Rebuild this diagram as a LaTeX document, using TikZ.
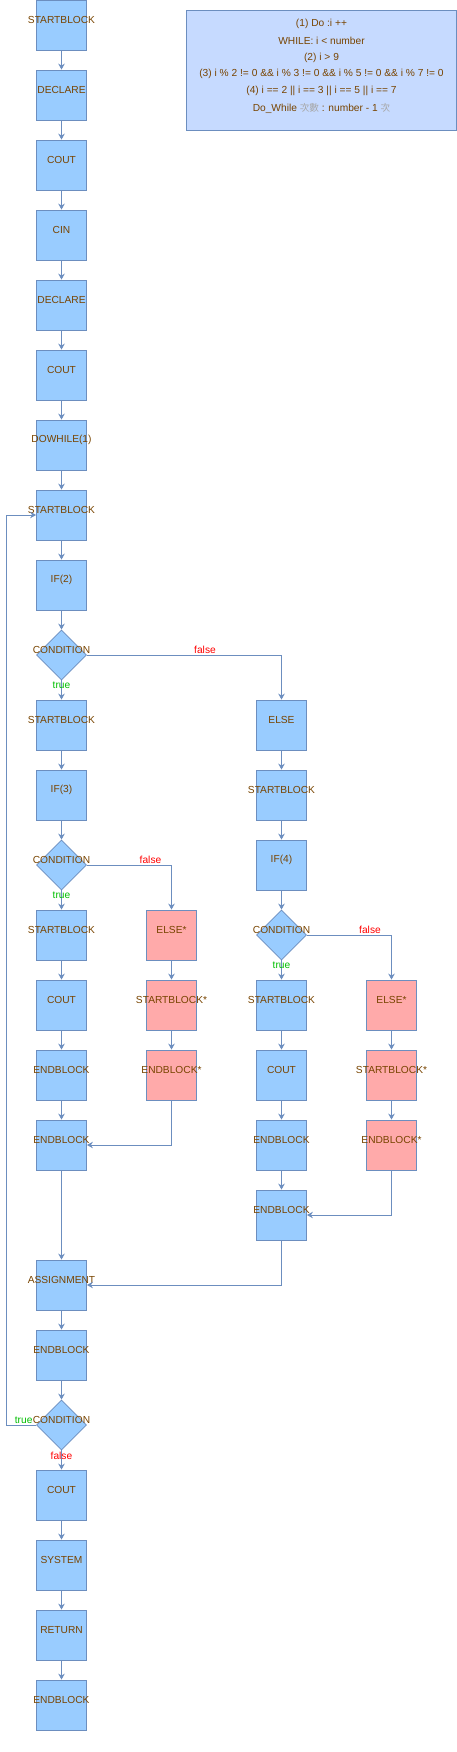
\documentclass[tikz,border=0pt]{standalone}
\usepackage{fontspec}
\setmainfont{Liberation Sans}
\newfontfamily\cjk{Noto Sans CJK TC}
\usetikzlibrary{arrows.meta,shapes.geometric}
\definecolor{edgec}{RGB}{108,142,191}
\definecolor{boxc}{RGB}{153,204,255}
\definecolor{pinkc}{RGB}{255,170,170}
\definecolor{notec}{RGB}{198,218,255}
\definecolor{txtc}{RGB}{120,68,0}
\definecolor{truec}{RGB}{0,190,0}
\definecolor{falsec}{RGB}{255,0,0}
\tikzset{
  box/.style={draw=edgec, fill=boxc, line width=0.8pt, minimum width=50pt, minimum height=50pt, inner sep=0pt},
  pbox/.style={box, fill=pinkc},
  dia/.style={diamond, draw=edgec, fill=boxc, line width=0.8pt, minimum width=50pt, minimum height=50pt, inner sep=0pt},
  lbl/.style={text=txtc, font=\fontsize{10.2}{12}\selectfont, inner sep=0pt},
  tf/.style={font=\fontsize{10.2}{12}\selectfont, inner sep=0pt},
  conn/.style={draw=edgec, line width=0.8pt, -{Stealth[length=6pt,width=6.5pt,inset=2pt]}},
}
\newcommand{\bx}[5][box]{%
  \node[#1] (#2) at (#3,#4+25) {};
  \node[lbl] (#2-l) at (#3,#4+20) {#5};}
\newcommand{\dx}[4]{%
  \node[dia] (#1) at (#2,#3+25) {};
  \node[lbl] (#1-l) at (#2,#3+20) {#4};}
\begin{document}
\begin{tikzpicture}[x=1pt,y=-1pt]
\useasboundingbox (0,0) rectangle (457,1752);
% note
\node[draw=edgec, fill=notec, line width=0.8pt, minimum width=270pt, minimum height=120pt, inner sep=0pt] (note) at (321.5,70.3) {};
\node[lbl] (n1) at (321.5,23.5) {(1) Do :i ++};
\node[lbl] (n2) at (321.5,40.5) {WHILE: i < number};
\node[lbl] (n3) at (321.5,57.5) {(2) i > 9};
\node[lbl] (n4) at (321.5,74.3) {(3) i \% 2 != 0 \&\& i \% 3 != 0 \&\& i \% 5 != 0 \&\& i \% 7 != 0};
\node[lbl] (n5) at (321.5,91.3) {(4) i == 2 || i == 3 || i == 5 || i == 7};
\node[lbl] (n6) at (321.5,108.3) {Do\_While {\color{gray!70}\cjk\fontsize{9.6}{12}\selectfont 次數} : number - 1 {\color{gray!70}\cjk\fontsize{9.6}{12}\selectfont 次}};
% column 1
\bx{r0}{61.5}{0}{STARTBLOCK}
\bx{r1}{61.5}{70}{DECLARE}
\bx{r2}{61.5}{140}{COUT}
\bx{r3}{61.5}{210}{CIN}
\bx{r4}{61.5}{280}{DECLARE}
\bx{r5}{61.5}{350}{COUT}
\bx{r6}{61.5}{420}{DOWHILE(1)}
\bx{r7}{61.5}{490}{STARTBLOCK}
\bx{r8}{61.5}{560}{IF(2)}
\dx{c9}{61.5}{630}{CONDITION}
\bx{r10a}{61.5}{700}{STARTBLOCK}
\bx{r11a}{61.5}{770}{IF(3)}
\dx{c12}{61.5}{840}{CONDITION}
\bx{r13a}{61.5}{910}{STARTBLOCK}
\bx{r14a}{61.5}{980}{COUT}
\bx{r15a}{61.5}{1050}{ENDBLOCK}
\bx{r16a}{61.5}{1120}{ENDBLOCK}
\bx{r18}{61.5}{1260}{ASSIGNMENT}
\bx{r19}{61.5}{1330}{ENDBLOCK}
\dx{c20}{61.5}{1400}{CONDITION}
\bx{r21}{61.5}{1470}{COUT}
\bx{r22}{61.5}{1540}{SYSTEM}
\bx{r23}{61.5}{1610}{RETURN}
\bx{r24}{61.5}{1680}{ENDBLOCK}
% column 2
\bx[pbox]{r13b}{171.5}{910}{ELSE*}
\bx[pbox]{r14b}{171.5}{980}{STARTBLOCK*}
\bx[pbox]{r15b}{171.5}{1050}{ENDBLOCK*}
% column 3
\bx{r10c}{281.5}{700}{ELSE}
\bx{r11c}{281.5}{770}{STARTBLOCK}
\bx{r12c}{281.5}{840}{IF(4)}
\dx{c13c}{281.5}{910}{CONDITION}
\bx{r14c}{281.5}{980}{STARTBLOCK}
\bx{r15c}{281.5}{1050}{COUT}
\bx{r16c}{281.5}{1120}{ENDBLOCK}
\bx{r17c}{281.5}{1190}{ENDBLOCK}
% column 4
\bx[pbox]{r14d}{391.5}{980}{ELSE*}
\bx[pbox]{r15d}{391.5}{1050}{STARTBLOCK*}
\bx[pbox]{r16d}{391.5}{1120}{ENDBLOCK*}
% straight connectors
\foreach \a/\b in {r0/r1,r1/r2,r2/r3,r3/r4,r4/r5,r5/r6,r6/r7,r7/r8,r8/c9,c9/r10a,r10a/r11a,r11a/c12,c12/r13a,r13a/r14a,r14a/r15a,r15a/r16a,r16a/r18,r18/r19,r19/c20,c20/r21,r21/r22,r22/r23,r23/r24,r13b/r14b,r14b/r15b,r10c/r11c,r11c/r12c,r12c/c13c,c13c/r14c,r14c/r15c,r15c/r16c,r16c/r17c,r14d/r15d,r15d/r16d}
  \draw[conn] (\a) -- (\b);
% branches
\draw[conn] (c9.east) -| (r10c.north);
\draw[conn] (c12.east) -| (r13b.north);
\draw[conn] (c13c.east) -| (r14d.north);
\draw[conn] (r15b.south) |- (r16a.east);
\draw[conn] (r16d.south) |- (r17c.east);
\draw[conn] (r17c.south) |- (r18.east);
\coordinate (lb) at (6,1425);
\coordinate (lt) at (6,515);
\draw[conn] (c20.west) -- (lb) -- (lt) -- (r7.west);
% true / false labels
\node[tf, text=falsec] (f9) at (205,650) {false};
\node[tf, text=truec] (t9) at (61.5,685.5) {true};
\node[tf, text=falsec] (f12) at (150.5,860) {false};
\node[tf, text=truec] (t12) at (61.5,895.5) {true};
\node[tf, text=falsec] (f13) at (370,930) {false};
\node[tf, text=truec] (t13) at (281.5,965.5) {true};
\node[tf, text=truec, anchor=east] (t20) at (c20-l.west) {true};
\node[tf, text=falsec] (f20) at (61.5,1455.5) {false};
\end{tikzpicture}
\end{document}
